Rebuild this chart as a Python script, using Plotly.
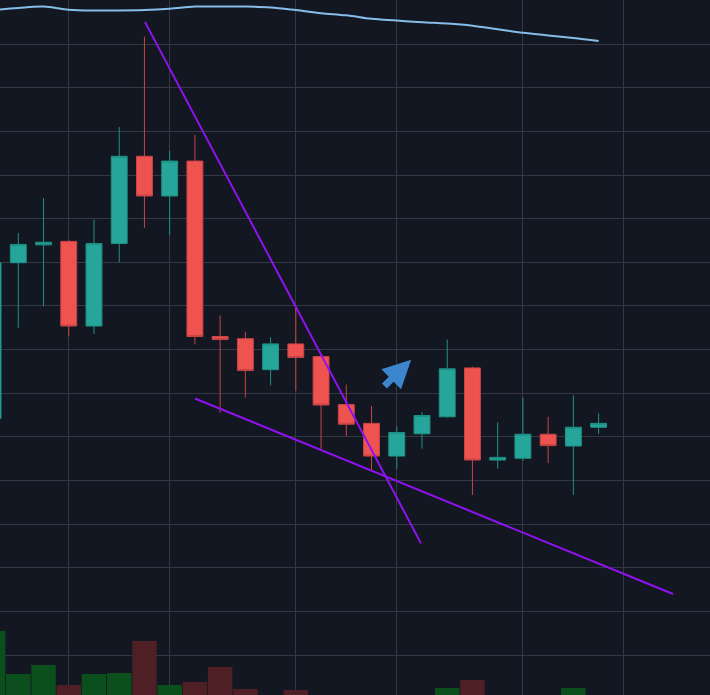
import plotly.graph_objects as go

idx = list(range(25))
opens = [15.42, 18.99, 19.40, 19.48, 17.54, 19.43, 21.43, 20.52, 21.32, 17.30, 17.25, 16.54, 17.13,
         16.84, 15.74, 15.31, 14.56, 15.07, 15.46, 16.58, 14.47, 14.51, 15.06, 14.79, 15.22]
highs = [19.10, 19.67, 20.47, 19.52, 19.98, 22.10, 24.17, 21.56, 21.92, 17.78, 17.41, 17.28, 17.97,
         16.89, 16.20, 15.71, 15.24, 15.57, 17.23, 16.61, 15.33, 15.90, 15.46, 15.95, 15.54]
lows = [15.20, 17.50, 17.99, 17.30, 17.36, 19.00, 19.79, 19.63, 17.12, 15.56, 15.90, 16.18, 16.05,
        14.70, 15.01, 14.22, 14.27, 14.73, 15.44, 13.67, 14.27, 14.45, 14.40, 13.67, 15.07]
closes = [18.99, 19.41, 19.46, 17.54, 19.43, 21.43, 20.52, 21.32, 17.30, 17.23, 16.52, 17.13, 16.82,
          15.73, 15.29, 14.56, 15.10, 15.49, 16.56, 14.47, 14.53, 15.06, 14.80, 15.22, 15.31]
volumes = [840, 410, 500, 300, 410, 420, 740, 300, 330, 480, 260, 150, 250,
           180, 140, 170, 120, 160, 270, 350, 110, 150, 130, 270, 90]
ma = [24.78, 24.83, 24.86, 24.79, 24.77, 24.77, 24.78, 24.81, 24.86, 24.86, 24.86, 24.84, 24.78,
      24.71, 24.66, 24.58, 24.54, 24.50, 24.47, 24.42, 24.34, 24.26, 24.20, 24.14, 24.07]

trend_upper = [(6.02, 24.51), (16.96, 12.56)]
trend_lower = [(8.00, 15.88), (26.95, 11.40)]
arrow_tail = (15.45, 16.13)
arrow_tip = (16.57, 16.77)

x_grid = [3, 7, 12, 16, 21, 25]

UP = "#26a69a"
DOWN = "#ef5350"
BG = "#131722"
GRID = "#343844"

vol_colors = ["#0b4f1c" if c >= o else "#4e1f25" for o, c in zip(opens, closes)]

fig = go.Figure()
fig.add_trace(go.Bar(x=idx, y=volumes, marker=dict(color=vol_colors, line=dict(width=0)),
                     yaxis="y2", hoverinfo="skip"))
fig.add_trace(go.Scatter(x=idx, y=ma, mode="lines", line=dict(color="#86bde9", width=2, shape="spline"),
                         hoverinfo="skip"))
fig.add_trace(go.Candlestick(x=idx, open=opens, high=highs, low=lows, close=closes,
                             increasing=dict(line=dict(color="#1f9186", width=1), fillcolor=UP),
                             decreasing=dict(line=dict(color="#c74446", width=1), fillcolor=DOWN),
                             whiskerwidth=0))
for seg in (trend_upper, trend_lower):
    fig.add_trace(go.Scatter(x=[p[0] for p in seg], y=[p[1] for p in seg], mode="lines",
                             line=dict(color="#8f12f0", width=2), hoverinfo="skip"))

fig.add_annotation(x=arrow_tip[0], y=arrow_tip[1], ax=arrow_tail[0], ay=arrow_tail[1],
                   xref="x", yref="y", axref="x", ayref="y", text="", showarrow=True,
                   arrowhead=2, arrowsize=0.8, arrowwidth=7, arrowcolor="#3d85cc")

fig.update_layout(
    width=710, height=695, margin=dict(l=0, r=0, t=0, b=0),
    paper_bgcolor=BG, plot_bgcolor=BG, showlegend=False, bargap=0.03, boxgap=0.1,
    xaxis=dict(range=[0.275, 28.415], tickvals=x_grid, showticklabels=False, showgrid=True,
               gridcolor=GRID, gridwidth=1, zeroline=False, rangeslider=dict(visible=False),
               showline=False, ticks=""),
    yaxis=dict(range=[9.085, 25.011], tick0=10, dtick=1, showticklabels=False, showgrid=True,
               gridcolor=GRID, gridwidth=1, zeroline=False, ticks=""),
    yaxis2=dict(range=[200, 200 + 6950], overlaying="y", showgrid=False, showticklabels=False,
                zeroline=False, ticks=""),
)

fig.write_html("out.html")
